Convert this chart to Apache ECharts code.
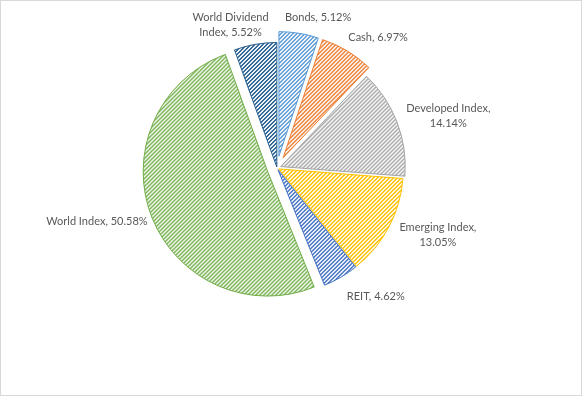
<!DOCTYPE html>
<html><head><meta charset="utf-8">
<script src="https://cdn.jsdelivr.net/npm/echarts@6/dist/echarts.min.js"></script>
<style>
html,body{margin:0;padding:0;background:#fff}
#c{position:absolute;left:0;top:0;width:582px;height:396px}
#f{position:absolute;left:0;top:0;width:582px;height:396px;box-sizing:border-box;border:1px solid #d9d9d9;pointer-events:none}
</style></head><body><div id="c"></div><div id="f"></div>
<script>
// ---- data ----
const categories = ['Bonds', 'Cash', 'Developed Index', 'Emerging Index', 'REIT', 'World Index', 'World Dividend Index'];
const shares = [5.12, 6.97, 14.14, 13.05, 4.62, 50.58, 5.52];
const labelNames = ['Bonds', 'Cash', 'Developed Index', 'Emerging Index', 'REIT', 'World Index', 'World Dividend\nIndex'];
const labelSeparators = [' ', ' ', '\n', '\n', ' ', ' ', ' '];
const colors = ['#5B9BD5', '#ED7D31', '#A5A5A5', '#FFC000', '#4472C4', '#70AD47', '#255E91'];

// ---- style ----
// per-slice explosion (px), as in the original exploded pie
const explodeOffsets = [12, 12, 4, 2, 2, 10, 1];
const pieCenter = [277, 168];
const pieRadius = 124.5;
const labelReach = 14;
const labelFont = '11px Lato';
const labelLineHeight = 15;

function hatch(color) {
  const cv = document.createElement('canvas');
  cv.width = 4; cv.height = 4;
  const ctx = cv.getContext('2d');
  ctx.fillStyle = '#ffffff';
  ctx.fillRect(0, 0, 4, 4);
  ctx.fillStyle = color;
  for (let i = 0; i < 4; i++) {
    ctx.fillRect(3 - i, i, 1, 1);
    ctx.fillRect((4 - i) % 4, i, 1, 1);
  }
  return { image: cv, repeat: 'repeat' };
}

const chart = echarts.init(document.getElementById('c'), null, { renderer: 'canvas' });

const hidden = { color: 'rgba(0,0,0,0)', borderWidth: 0 };
// one pie layer per slice, so each slice can have its own explosion distance
const series = categories.map((cat, i) => ({
  type: 'pie',
  center: pieCenter,
  radius: pieRadius,
  startAngle: 90,
  clockwise: true,
  selectedMode: 'single',
  selectedOffset: explodeOffsets[i],
  emphasis: { disabled: true },
  silent: true,
  label: { show: false },
  labelLine: { show: false },
  data: categories.map((name, j) => {
    if (j !== i) return { name: name, value: shares[j], itemStyle: hidden, select: { itemStyle: hidden } };
    const st = { color: hatch(colors[j]), borderColor: colors[j], borderWidth: 1 };
    return { name: name, value: shares[j], selected: true, itemStyle: st, select: { itemStyle: st } };
  })
}));

chart.setOption({ animation: false, backgroundColor: '#ffffff', series: series });

// Excel-like "best fit" labels placed from the pie's own layout
const mctx = document.createElement('canvas').getContext('2d');
mctx.font = labelFont;
const graphics = categories.map((name, i) => {
  const sd = chart.getModel().getSeriesByIndex(i).getData();
  const L = sd.getItemLayout(i);
  const text = labelNames[i] + ',' + labelSeparators[i] + shares[i].toFixed(2) + '%';
  const lines = text.split('\n');
  const tw = Math.max.apply(null, lines.map(s => mctx.measureText(s).width));
  const mid = (L.startAngle + L.endAngle) / 2;
  const ux = Math.cos(mid), uy = Math.sin(mid);
  const d = L.r + labelReach;
  const px = L.cx + d * ux, py = L.cy + d * uy;
  const fx = Math.sign(ux) * Math.min(1, 0.3 + 1.7 * Math.abs(ux));
  const dy = (uy < 0 ? 14 : 10) * uy / lines.length;
  return {
    type: 'text',
    x: px + (tw / 2) * fx,
    y: py + dy,
    silent: true,
    style: {
      text: text, fill: '#595959', font: labelFont,
      align: 'center', verticalAlign: 'middle', lineHeight: labelLineHeight
    }
  };
});
chart.setOption({ graphic: graphics });
</script>
</body></html>
